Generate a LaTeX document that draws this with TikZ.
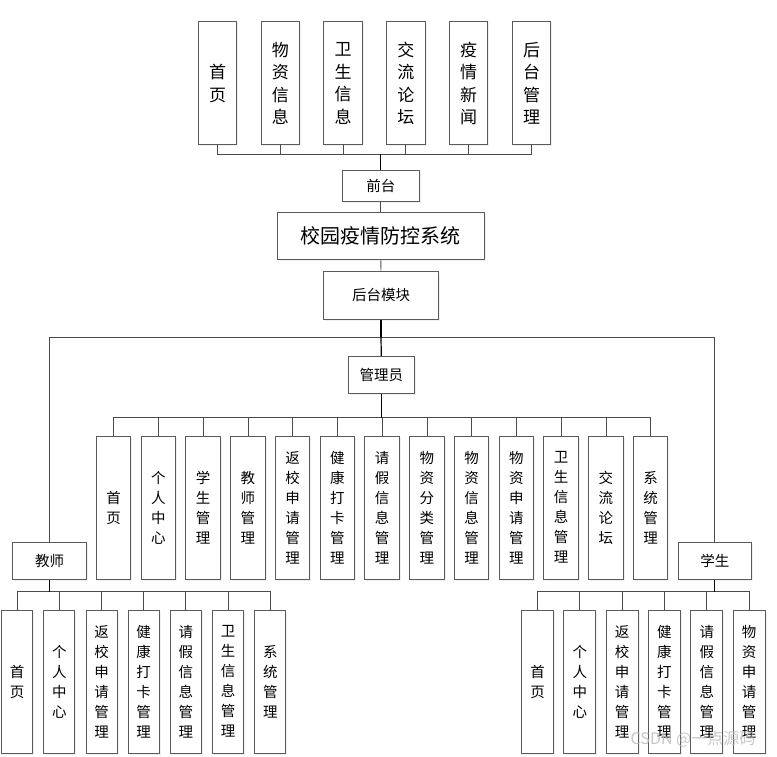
\documentclass[tikz,border=0pt]{standalone}
\usepackage{fontspec}
\newfontfamily\cjk{Noto Sans CJK SC}
\usetikzlibrary{shadows}
\definecolor{boxgray}{HTML}{5A5A5A}
\definecolor{linegray}{HTML}{4A4A4A}
\begin{document}
\begin{tikzpicture}[x=1pt,y=-1pt,
  box/.style={draw=boxgray, line width=1pt, fill=white, inner sep=0pt, align=center,
    drop shadow={opacity=0.12, shadow xshift=1.5pt, shadow yshift=-1.5pt}},
  topbox/.style={box, minimum width=38.5pt, minimum height=123pt, font=\cjk\fontsize{17}{22.5}\selectfont},
  midbox/.style={box, minimum width=34.5pt, minimum height=143pt, font=\cjk\fontsize{14.5}{20}\selectfont},
  tbox/.style={box, minimum width=31pt, minimum height=143pt, font=\cjk\fontsize{14.5}{20}\selectfont},
  sbox/.style={box, minimum width=32.3pt, minimum height=143pt, font=\cjk\fontsize{14.5}{20}\selectfont},
  hbox/.style={box, font=\cjk\fontsize{14.5}{17}\selectfont},
  conn/.style={draw=linegray, line width=0.9pt},
  trunk/.style={draw=black, line width=1.2pt}
]
\useasboundingbox (0,0) rectangle (777,757);

% top row
\foreach \t [count=\i] in {首\\页, 物\\资\\信\\息, 卫\\生\\信\\息, 交\\流\\论\\坛, 疫\\情\\新\\闻, 后\\台\\管\\理}
  \node[topbox] (t\i) at ({217.5+(\i-1)*62.8},83.5) {\t};

\node[hbox, minimum width=77pt, minimum height=30.3pt] (front) at (380.8,186) {前台};
\node[box, minimum width=207pt, minimum height=47.7pt, font=\cjk\fontsize{20}{24}\selectfont] (sys) at (380.8,236) {校园疫情防控系统};
\node[hbox, minimum width=114.6pt, minimum height=48pt] (back) at (381,295) {后台模块};
\node[hbox, minimum width=66pt, minimum height=36.6pt] (admin) at (381.3,375) {管理员};
\node[hbox, minimum width=74pt, minimum height=36.6pt] (teacher) at (49.7,561) {教师};
\node[hbox, minimum width=73pt, minimum height=36.6pt] (student) at (714.8,561) {学生};

% admin children
\foreach \t [count=\i] in {首\\页, 个\\人\\中\\心, 学\\生\\管\\理, 教\\师\\管\\理, 返\\校\\申\\请\\管\\理, 健\\康\\打\\卡\\管\\理, 请\\假\\信\\息\\管\\理, 物\\资\\分\\类\\管\\理, 物\\资\\信\\息\\管\\理, 物\\资\\申\\请\\管\\理, 卫\\生\\信\\息\\管\\理, 交\\流\\论\\坛, 系\\统\\管\\理}
  \node[midbox] (m\i) at ({113.7+(\i-1)*44.75},507.5) {\t};

% teacher children
\foreach \t [count=\i] in {首\\页, 个\\人\\中\\心, 返\\校\\申\\请\\管\\理, 健\\康\\打\\卡\\管\\理, 请\\假\\信\\息\\管\\理, 卫\\生\\信\\息\\管\\理, 系\\统\\管\\理}
  \node[tbox] (c\i) at ({17.2+(\i-1)*42.18},681.5) {\t};

% student children
\foreach \t [count=\i] in {首\\页, 个\\人\\中\\心, 返\\校\\申\\请\\管\\理, 健\\康\\打\\卡\\管\\理, 请\\假\\信\\息\\管\\理, 物\\资\\申\\请\\管\\理}
  \node[sbox] (s\i) at ({537.5+(\i-1)*42.33},681.5) {\t};

% bus coordinates
\coordinate (busT) at (380.8,154);
\coordinate (busB) at (381,337);
\coordinate (busM) at (381.3,417.7);
\coordinate (busC) at (49.7,591.7);
\coordinate (busS) at (714.8,591.7);

% connectors
\foreach \i in {1,...,6} \draw[conn] (busT) -| (t\i.south);
\draw[trunk] (front.north) -- (busT);
\draw[conn] (front.south) -- (sys.north);
\draw[conn] (sys.south) -- (back.north);
\draw[trunk] (back.south) -- (busB);
\draw[conn] (busB) -| (teacher.north);
\draw[conn] (busB) -| (student.north);
\draw[trunk] (busB) -- (admin.north);

\foreach \i in {1,...,13} \draw[conn] (busM) -| (m\i.north);
\draw[trunk] (admin.south) -- (busM);

\foreach \i in {1,...,7} \draw[conn] (busC) -| (c\i.north);
\draw[trunk] (teacher.south) -- (busC);

\foreach \i in {1,...,6} \draw[conn] (busS) -| (s\i.north);
\draw[trunk] (student.south) -- (busS);

% watermark
\node[text=gray!55, opacity=0.8, font=\cjk\fontsize{16}{18}\selectfont, inner sep=0pt] (wm) at (693,739) {CSDN @一点源码};
\end{tikzpicture}
\end{document}
